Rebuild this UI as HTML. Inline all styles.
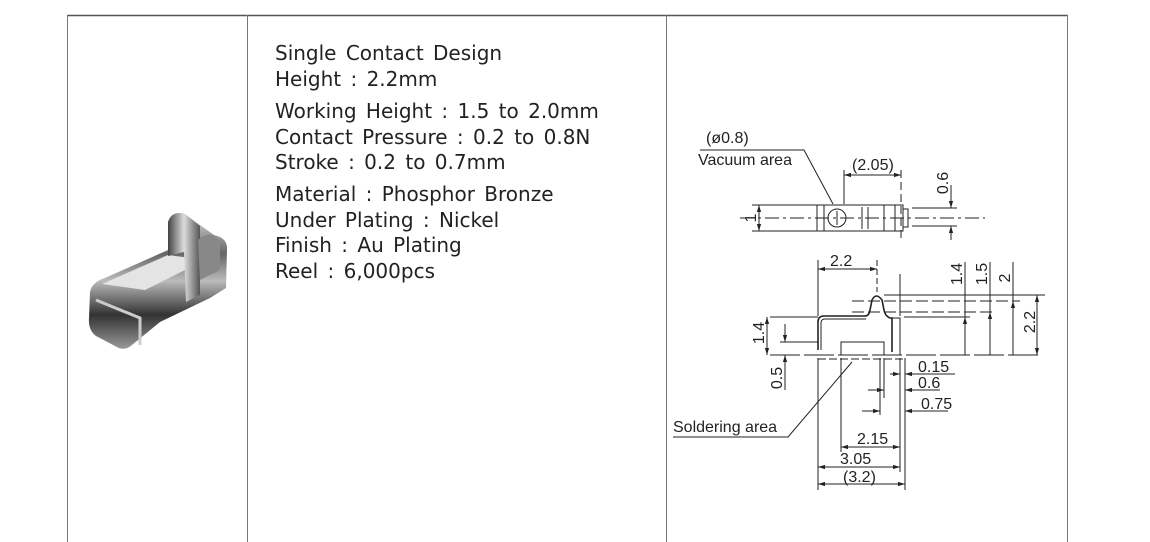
<!DOCTYPE html>
<html><head><meta charset="utf-8"><style>
html,body{margin:0;padding:0;background:#fff;}
body{width:1150px;height:542px;position:relative;overflow:hidden;}
.t{position:absolute;left:275px;font-family:"DejaVu Sans","Liberation Sans",sans-serif;font-size:20px;word-spacing:3px;color:#222;white-space:nowrap;line-height:1;}
</style></head><body>
<svg width="1150" height="542" style="position:absolute;left:0;top:0">
<line x1="67" y1="15.5" x2="1068" y2="15.5" stroke="#555" stroke-width="1.5"/>
<line x1="67.5" y1="15" x2="67.5" y2="542" stroke="#777"/>
<line x1="247.5" y1="15" x2="247.5" y2="542" stroke="#777"/>
<line x1="666.5" y1="15" x2="666.5" y2="542" stroke="#777"/>
<line x1="1067.5" y1="15" x2="1067.5" y2="542" stroke="#777"/>
<defs>
<linearGradient id="g1" x1="0" y1="0" x2="0" y2="1"><stop offset="0" stop-color="#ddd"/><stop offset=".3" stop-color="#666"/><stop offset=".5" stop-color="#bbb"/><stop offset=".75" stop-color="#333"/><stop offset="1" stop-color="#999"/></linearGradient>
<linearGradient id="g2" x1="0" y1="0" x2="1" y2="0"><stop offset="0" stop-color="#444"/><stop offset=".5" stop-color="#ddd"/><stop offset="1" stop-color="#555"/></linearGradient>
<marker id="a" viewBox="0 0 10 10" refX="10" refY="5" markerWidth="7" markerHeight="7" orient="auto-start-reverse"><path d="M0 2 L10 5 L0 8 Z" fill="#222"/></marker>
</defs>
<!-- product -->
<path d="M90 292 Q92 282 105 278 L168 250 L168 222 Q172 210 185 214 L200 225 L214 235 Q228 238 227 250 L226 288 L210 298 L160 322 L132 345 Q124 352 115 346 L96 336 Q88 330 89 318 Z" fill="url(#g1)"/>
<path d="M102 284 L168 255 L205 260 L145 290 Z" fill="#e4e4e4"/>
<path d="M168 222 Q172 210 185 214 L200 226 L200 295 L186 302 L184 252 L168 256 Z" fill="url(#g2)"/>
<path d="M198 240 Q212 228 220 242 L220 270 L200 280 Z" fill="#888"/>
<path d="M96 300 L140 318 L140 345" stroke="#ccc" stroke-width="3" fill="none"/>
<g stroke="#222" stroke-width="1" fill="none">
<!-- top view -->
<line x1="740" y1="218" x2="985" y2="218" stroke-dasharray="14,4,3,4"/>
<rect x="817" y="205" width="86" height="26"/>
<line x1="824" y1="205" x2="824" y2="231"/>
<line x1="862" y1="207" x2="862" y2="229"/><line x1="868" y1="207" x2="868" y2="229"/>
<line x1="884" y1="205" x2="884" y2="231"/><line x1="895" y1="205" x2="895" y2="231"/>
<rect x="903" y="209" width="5" height="18"/>
<circle cx="837" cy="218" r="9"/>
<line x1="837" y1="211" x2="837" y2="225"/>
<line x1="752" y1="205" x2="817" y2="205"/><line x1="752" y1="231" x2="817" y2="231"/>
<line x1="759" y1="205" x2="759" y2="231" marker-start="url(#a)" marker-end="url(#a)"/>
<line x1="844" y1="170" x2="844" y2="204"/><line x1="901" y1="170" x2="901" y2="240" stroke-dasharray="8,4"/>
<line x1="844" y1="175" x2="901" y2="175" marker-start="url(#a)" marker-end="url(#a)"/>
<line x1="912" y1="208" x2="957" y2="208"/><line x1="912" y1="226" x2="957" y2="226"/>
<line x1="951" y1="185" x2="951" y2="208" marker-end="url(#a)"/>
<line x1="951" y1="240" x2="951" y2="226" marker-end="url(#a)"/>
<polyline points="700,150 804,150 833,204"/>
<!-- side view -->
<line x1="770" y1="355" x2="1040" y2="355" stroke-dasharray="30,4"/>
<path d="M818 350 L818 322 Q818 316 824 316 L865 316 Q869 316 870 310 L872 300 Q876 292 882 300 L884 310 Q885 316 890 318 L892 318 L892 352" stroke-width="1.6"/>
<path d="M821 350 L821 323 Q821 319 825 319 L866 319" />
<path d="M892 318 L900 318 L900 355"/>
<path d="M841 355 L841 342 L884 342 L884 355"/>
<line x1="818" y1="317" x2="770" y2="317"/>
<line x1="818" y1="342" x2="780" y2="342"/>
<line x1="818" y1="260" x2="818" y2="316"/><line x1="877" y1="260" x2="877" y2="292" stroke-dasharray="6,3"/>
<line x1="900" y1="274" x2="900" y2="316"/>
<line x1="818" y1="269" x2="877" y2="269" marker-start="url(#a)" marker-end="url(#a)"/>
<line x1="884" y1="295" x2="1045" y2="295"/>
<line x1="852" y1="301" x2="1020" y2="301" stroke-dasharray="12,4"/>
<line x1="852" y1="312" x2="995" y2="312" stroke-dasharray="12,4"/>
<line x1="904" y1="317" x2="970" y2="317"/>
<line x1="965" y1="262" x2="965" y2="317"/><line x1="965" y1="355" x2="965" y2="317" marker-end="url(#a)"/>
<line x1="990" y1="262" x2="990" y2="312"/><line x1="990" y1="355" x2="990" y2="312" marker-end="url(#a)"/>
<line x1="1013" y1="262" x2="1013" y2="301"/><line x1="1013" y1="355" x2="1013" y2="301" marker-end="url(#a)"/>
<line x1="1037" y1="295" x2="1037" y2="355" marker-start="url(#a)" marker-end="url(#a)"/>
<line x1="767" y1="317" x2="767" y2="355" marker-start="url(#a)" marker-end="url(#a)"/>
<line x1="785" y1="324" x2="785" y2="342" marker-end="url(#a)"/><line x1="785" y1="390" x2="785" y2="355" marker-end="url(#a)"/>
<line x1="818" y1="358" x2="818" y2="490"/><line x1="841" y1="358" x2="841" y2="452"/>
<line x1="880" y1="358" x2="880" y2="415"/><line x1="884" y1="358" x2="884" y2="398"/>
<line x1="900" y1="358" x2="900" y2="472"/><line x1="905" y1="358" x2="905" y2="490"/>
<line x1="818" y1="359" x2="905" y2="359" stroke-dasharray="8,3"/>
<line x1="890" y1="374" x2="900" y2="374" marker-end="url(#a)"/><line x1="955" y1="374" x2="905" y2="374" marker-end="url(#a)"/>
<line x1="868" y1="390" x2="884" y2="390" marker-end="url(#a)"/><line x1="940" y1="390" x2="905" y2="390" marker-end="url(#a)"/>
<line x1="862" y1="411" x2="880" y2="411" marker-end="url(#a)"/><line x1="948" y1="411" x2="905" y2="411" marker-end="url(#a)"/>
<line x1="841" y1="447" x2="900" y2="447" marker-start="url(#a)" marker-end="url(#a)"/>
<line x1="818" y1="467" x2="900" y2="467" marker-start="url(#a)" marker-end="url(#a)"/>
<line x1="818" y1="484" x2="905" y2="484" marker-start="url(#a)" marker-end="url(#a)"/>
<polyline points="673,437 788,437 852,362"/>
</g>
<g fill="#222" font-family="Liberation Sans,sans-serif" font-size="16">
<text x="706" y="143">(ø0.8)</text>
<text x="698" y="165">Vacuum area</text>
<text x="852" y="170">(2.05)</text>
<text transform="translate(756,218) rotate(-90)" text-anchor="middle">1</text>
<text transform="translate(948,183) rotate(-90)" text-anchor="middle">0.6</text>
<text x="830" y="266">2.2</text>
<text transform="translate(962,274) rotate(-90)" text-anchor="middle">1.4</text>
<text transform="translate(987,274) rotate(-90)" text-anchor="middle">1.5</text>
<text transform="translate(1010,278) rotate(-90)" text-anchor="middle">2</text>
<text transform="translate(1035,322) rotate(-90)" text-anchor="middle">2.2</text>
<text transform="translate(764,333) rotate(-90)" text-anchor="middle">1.4</text>
<text transform="translate(782,378) rotate(-90)" text-anchor="middle">0.5</text>
<text x="918" y="372">0.15</text>
<text x="918" y="388">0.6</text>
<text x="921" y="409">0.75</text>
<text x="673" y="432">Soldering area</text>
<text x="857" y="444">2.15</text>
<text x="840" y="464">3.05</text>
<text x="843" y="482">(3.2)</text>
</g>
</svg>
<div class="t" style="top:43px">Single Contact Design</div>
<div class="t" style="top:69px">Height : 2.2mm</div>
<div class="t" style="top:101px">Working Height : 1.5 to 2.0mm</div>
<div class="t" style="top:127px">Contact Pressure : 0.2 to 0.8N</div>
<div class="t" style="top:152px">Stroke : 0.2 to 0.7mm</div>
<div class="t" style="top:184px">Material : Phosphor Bronze</div>
<div class="t" style="top:210px">Under Plating : Nickel</div>
<div class="t" style="top:235px">Finish : Au Plating</div>
<div class="t" style="top:261px">Reel : 6,000pcs</div>
</body></html>
